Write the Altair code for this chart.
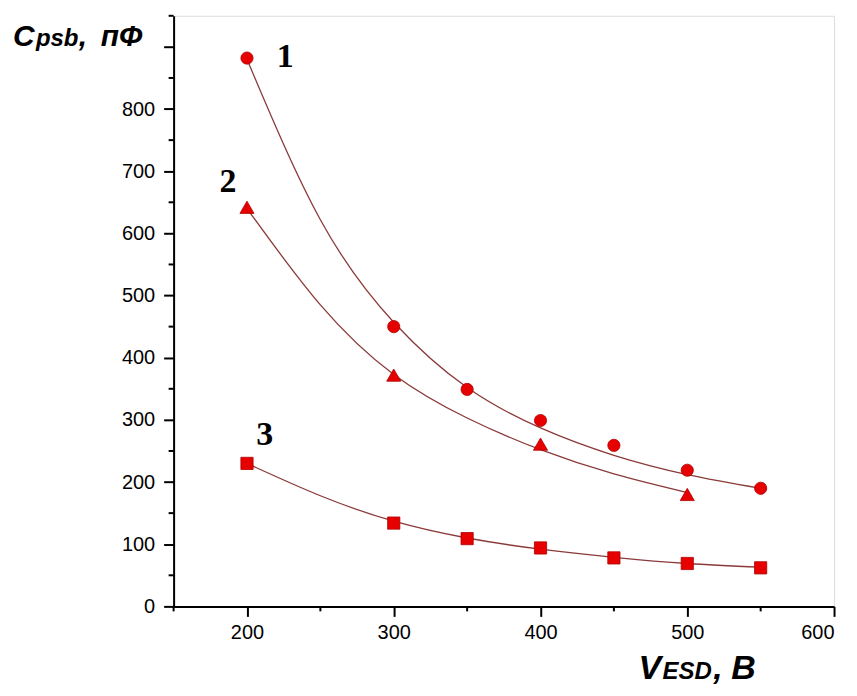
import altair as alt
import pandas as pd

# measured points
pts_x1 = [200, 300, 350, 400, 450, 500, 550]
pts_y1 = [882, 450, 349, 299, 259, 219, 190]
pts_x2 = [200, 300, 400, 500]
pts_y2 = [642, 372, 261, 180]
pts_x3 = [200, 300, 350, 400, 450, 500, 550]
pts_y3 = [230, 134, 109, 94, 78, 69, 62]

# fitted curves
fit_x1 = [200, 250, 300, 350, 400, 450, 500, 550]
fit_y1 = [880, 622, 457, 352, 287, 243, 212, 190]
fit_x2 = [200, 250, 300, 350, 400, 450, 500]
fit_y2 = [640, 485, 373, 303, 252, 213, 183]
fit_x3 = [200, 250, 300, 350, 400, 450, 500, 550]
fit_y3 = [230, 178, 137, 110, 92, 79, 69, 63]

curve_labels = ["1", "2", "3"]
label_x = [226, 187, 212]
label_y = [868, 666, 260]

x_major = [200, 300, 400, 500, 600]
x_minor = [150, 250, 350, 450, 550]
y_major = [0, 100, 200, 300, 400, 500, 600, 700, 800, 900]
y_minor = [50, 150, 250, 350, 450, 550, 650, 750, 850, 950]

MARK_RED = "#e60000"
LINE_COL = "#8b3a3a"

xs = alt.Scale(domain=[150, 600], nice=False, zero=False)
ys = alt.Scale(domain=[0, 950], nice=False, zero=False)

xaxis = alt.Axis(values=x_major, title=None, grid=False, tickSize=10, tickWidth=2,
                 domainWidth=2, domainColor="black", tickColor="black",
                 labelFont="Liberation Sans", labelFontSize=20, labelColor="black",
                 labelPadding=6)
yaxis = alt.Axis(values=y_major, title=None, grid=False, tickSize=10, tickWidth=2,
                 domainWidth=2, domainColor="black", tickColor="black",
                 labelFont="Liberation Sans", labelFontSize=20, labelColor="black",
                 labelPadding=9, labelExpr="datum.value == 900 ? '' : datum.label")

fit_df = pd.concat([
    pd.DataFrame({"x": fit_x1, "y": fit_y1, "s": "1"}),
    pd.DataFrame({"x": fit_x2, "y": fit_y2, "s": "2"}),
    pd.DataFrame({"x": fit_x3, "y": fit_y3, "s": "3"}),
])

curves = alt.Chart(fit_df).mark_line(color=LINE_COL, strokeWidth=1.3, interpolate="natural").encode(
    x=alt.X("x:Q", scale=xs, axis=xaxis),
    y=alt.Y("y:Q", scale=ys, axis=yaxis),
    detail="s:N",
)

def pts(xv, yv, shape, size):
    return alt.Chart(pd.DataFrame({"x": xv, "y": yv})).mark_point(
        shape=shape, size=size, filled=True, fill=MARK_RED, stroke="#b00000",
        strokeWidth=0.8, opacity=1
    ).encode(x=alt.X("x:Q", scale=xs), y=alt.Y("y:Q", scale=ys))

p1 = pts(pts_x1, pts_y1, "circle", 150)
p2 = pts(pts_x2, pts_y2, "triangle-up", 200)
p3 = pts(pts_x3, pts_y3, "square", 150)

labels = alt.Chart(pd.DataFrame({"x": label_x, "y": label_y, "t": curve_labels})).mark_text(
    font="Liberation Serif", fontWeight="bold", fontSize=34, align="center",
    baseline="alphabetic", color="black"
).encode(x=alt.X("x:Q", scale=xs), y=alt.Y("y:Q", scale=ys), text="t:N")

xminor = alt.Chart(pd.DataFrame({"x": x_minor})).mark_rule(color="black", strokeWidth=2).encode(
    x=alt.X("x:Q", scale=xs), y=alt.value(592), y2=alt.value(597)
)
yminor = alt.Chart(pd.DataFrame({"y": y_minor})).mark_rule(color="black", strokeWidth=2).encode(
    y=alt.Y("y:Q", scale=ys), x=alt.value(0), x2=alt.value(-5)
)

def txt(s, px, py, size):
    return alt.Chart(pd.DataFrame({"t": [s]})).mark_text(
        font="Liberation Sans", fontWeight="bold", fontStyle="italic", fontSize=size,
        align="left", baseline="alphabetic", color="black"
    ).encode(text="t:N", x=alt.value(px), y=alt.value(py))

title_parts = [
    txt("C", -161, 30, 30), txt("psb", -138, 30, 24), txt(",", -95, 30, 30), txt("пФ", -73, 30, 30),
    txt("V", 466, 665, 34), txt("ESD", 490, 665, 24), txt(",", 541, 665, 34), txt("B", 559, 665, 34),
]

chart = alt.layer(curves, p1, p2, p3, labels, xminor, yminor, *title_parts).properties(
    width=662, height=592,
    autosize=alt.AutoSizeParams(type="none"),
    padding={"left": 166, "top": 7, "right": 15, "bottom": 81},
).configure_view(stroke=None).configure(background="white")

chart.save("out.html", embed_options={"renderer": "svg", "actions": False})
